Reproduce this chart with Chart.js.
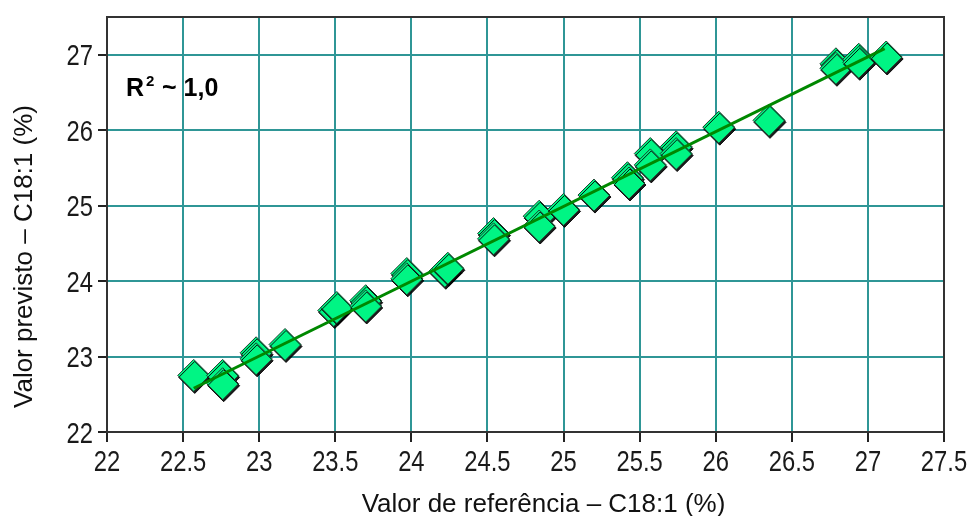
<!DOCTYPE html>
<html>
<head>
<meta charset="utf-8">
<script src="https://cdn.jsdelivr.net/npm/chart.js@4/dist/chart.umd.min.js"></script>
<style>
  html, body { margin: 0; padding: 0; background: #fff; }
  #wrap { width: 974px; height: 516px; }
</style>
</head>
<body>
<div id="wrap"><canvas id="cal" width="974" height="516"></canvas></div>
<script>
// reference vs predicted C18:1 content (%)
const refValues = [22.57, 22.76, 22.76, 22.98, 22.98, 23.17, 23.49, 23.51, 23.70, 23.70,
  23.97, 23.97, 24.22, 24.24, 24.54, 24.54, 24.84, 24.84, 25.00, 25.20,
  25.42, 25.43, 25.57, 25.57, 25.74, 25.74, 26.02, 26.35, 26.79, 26.79,
  26.94, 26.94, 27.12];
const predValues = [22.75, 22.75, 22.64, 23.05, 22.97, 23.16, 23.61, 23.65, 23.74, 23.67,
  24.10, 24.03, 24.13, 24.17, 24.63, 24.56, 24.86, 24.73, 24.95, 25.14,
  25.37, 25.30, 25.69, 25.54, 25.78, 25.69, 26.04, 26.13, 26.88, 26.82,
  26.94, 26.90, 26.97];

// fitted calibration line end points
const fitX = [22.57, 27.11];
const fitY = [22.58, 27.08];

const xTicks = [22, 22.5, 23, 23.5, 24, 24.5, 25, 25.5, 26, 26.5, 27, 27.5];
const yTicks = [22, 23, 24, 25, 26, 27];

const xTitle = 'Valor de referência – C18:1 (%)';
const yTitle = 'Valor previsto – C18:1 (%)';

const gridColor = '#2f9696';
const sans = '"Liberation Sans", Arial, sans-serif';

const points = refValues.map((x, i) => ({ x: x, y: predValues[i] }));
const fitLine = fitX.map((x, i) => ({ x: x, y: fitY[i] }));

// dark drop shadow under the diamonds
const diamondShadow = {
  id: 'diamondShadow',
  beforeDatasetDraw(chart, args) {
    if (args.index !== 1) return;
    const ctx = chart.ctx;
    ctx.save();
    ctx.shadowColor = 'rgba(0,0,0,0.9)';
    ctx.shadowOffsetX = 1;
    ctx.shadowOffsetY = 2;
    ctx.shadowBlur = 0;
  },
  afterDatasetDraw(chart, args) {
    if (args.index !== 1) return;
    chart.ctx.restore();
  }
};

// condensed tick numbers (narrow, tall digits)
function narrowText(ctx, text, x, y, align) {
  ctx.save();
  ctx.translate(x, y);
  ctx.scale(0.82, 1);
  ctx.textAlign = align;
  ctx.fillText(text, 0, 0);
  ctx.restore();
}

// frame, tick numbers, axis titles and the R² note
const decorations = {
  id: 'decorations',
  afterDatasetsDraw(chart) {
    const { ctx, chartArea: a } = chart;
    ctx.save();
    ctx.strokeStyle = '#333';
    ctx.lineWidth = 2;
    ctx.strokeRect(a.left, a.top, a.right - a.left, a.bottom - a.top);

    ctx.fillStyle = '#000';
    ctx.font = 'bold 25px ' + sans;
    ctx.textBaseline = 'alphabetic';
    ctx.textAlign = 'left';
    ctx.fillText('R', a.left + 19, a.top + 79);
    ctx.font = 'bold 15px ' + sans;
    ctx.fillText('2', a.left + 39, a.top + 69);
    ctx.font = 'bold 25px ' + sans;
    ctx.fillText('~ 1,0', a.left + 55, a.top + 79);
    ctx.restore();
  },
  afterDraw(chart) {
    const { ctx, chartArea: a, scales } = chart;
    ctx.save();
    ctx.fillStyle = '#1a1a1a';
    ctx.font = '29px ' + sans;
    ctx.textBaseline = 'alphabetic';
    scales.x.ticks.forEach(t => {
      narrowText(ctx, String(t.value), scales.x.getPixelForValue(t.value), a.bottom + 39, 'center');
    });
    scales.y.ticks.forEach(t => {
      narrowText(ctx, String(t.value), a.left - 14, scales.y.getPixelForValue(t.value) + 10.5, 'right');
    });

    ctx.fillStyle = '#111';
    ctx.font = '26px ' + sans;
    ctx.textAlign = 'center';
    ctx.fillText(xTitle, (a.left + a.right) / 2 + 18, 512);
    ctx.translate(32, (a.top + a.bottom) / 2 + 32);
    ctx.rotate(-Math.PI / 2);
    ctx.fillText(yTitle, 0, 0);
    ctx.restore();
  }
};

new Chart(document.getElementById('cal').getContext('2d'), {
  type: 'scatter',
  data: {
    datasets: [{
      type: 'line',
      data: fitLine,
      borderColor: '#008800',
      borderWidth: 3,
      pointRadius: 0,
      fill: false,
      order: 0
    }, {
      data: points,
      pointStyle: 'rectRot',
      pointRadius: 16,
      pointHoverRadius: 16,
      backgroundColor: '#00f584',
      borderColor: '#1d3d2d',
      borderWidth: 1,
      order: 1
    }]
  },
  plugins: [diamondShadow, decorations],
  options: {
    responsive: false,
    animation: false,
    events: [],
    layout: { padding: { left: 0, right: 30, top: 15, bottom: 0 } },
    plugins: { legend: { display: false }, tooltip: { enabled: false } },
    scales: {
      x: {
        type: 'linear',
        min: 22,
        max: 27.5,
        afterBuildTicks: s => { s.ticks = xTicks.map(v => ({ value: v })); },
        afterFit: s => { s.height = 84; },
        grid: { color: gridColor, lineWidth: 2, tickColor: '#222', tickWidth: 2, tickLength: 10 },
        border: { color: '#222', width: 2 },
        ticks: { display: false }
      },
      y: {
        type: 'linear',
        min: 22,
        max: 27.5,
        afterBuildTicks: s => { s.ticks = yTicks.map(v => ({ value: v })); },
        afterFit: s => { s.width = 107; },
        grid: { color: gridColor, lineWidth: 2, tickColor: '#222', tickWidth: 2, tickLength: 9 },
        border: { color: '#333', width: 2 },
        ticks: { display: false }
      }
    }
  }
});
</script>
</body>
</html>
